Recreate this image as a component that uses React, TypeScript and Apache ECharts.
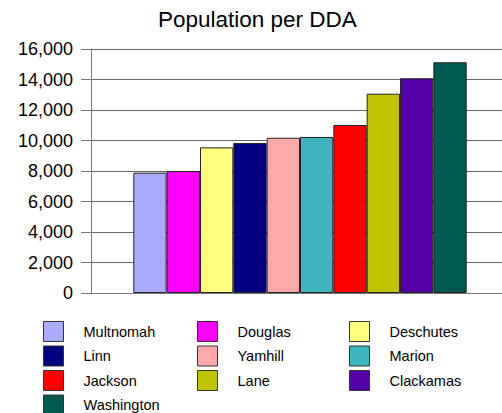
import React, { useEffect, useRef } from "react";
import * as echarts from "echarts";

// Population per DDA, one bar per county
const counties = [
  "Multnomah", "Douglas", "Deschutes", "Linn", "Yamhill",
  "Marion", "Jackson", "Lane", "Clackamas", "Washington",
];
const population = [7890, 8000, 9550, 9840, 10180, 10230, 11020, 13070, 14080, 15130];
const colors = [
  "#AAAAFF", "#FF00FF", "#FFFF80", "#000080", "#FFA8A8",
  "#3FB5C1", "#FF0000", "#C2C300", "#5500A8", "#005A50",
];
const yTicks = { min: 0, max: 16000, interval: 2000 };

// Legend columns, read top to bottom
const legendColumns = [
  ["Multnomah", "Linn", "Jackson", "Washington"],
  ["Douglas", "Yamhill", "Lane"],
  ["Deschutes", "Marion", "Clackamas"],
];
const legendLeft = [43, 197, 349];

const FONT = "Liberation Sans, Arial, sans-serif";

export default function App() {
  const ref = useRef<HTMLDivElement>(null);

  useEffect(() => {
    if (!ref.current) return;
    const chart = echarts.init(ref.current, null, { renderer: "svg" });

    const series = counties.map((name, i) => ({
      name,
      type: "bar",
      xAxisIndex: 1,
      yAxisIndex: 1,
      data: [population[i]],
      barGap: "0%",
      barCategoryGap: "0%",
      itemStyle: { color: colors[i], borderColor: "#222", borderWidth: 1 },
    }));

    chart.setOption({
      animation: false,
      backgroundColor: "#fff",
      title: {
        text: "Population per DDA",
        left: 158,
        top: 8,
        padding: 0,
        textStyle: { fontFamily: FONT, fontSize: 22.5, fontWeight: "normal", color: "#000" },
      },
      grid: [
        { left: 91, right: 0, top: 49, bottom: 120 },
        { left: 133.3, right: 35.3, top: 49, bottom: 120 },
      ],
      xAxis: [
        {
          type: "category",
          gridIndex: 0,
          data: [""],
          axisLine: { show: true, lineStyle: { color: "#777", width: 1 } },
          axisTick: { show: false },
          axisLabel: { show: false },
        },
        { type: "category", gridIndex: 1, data: [""], show: false },
      ],
      yAxis: [
        {
          type: "value",
          gridIndex: 0,
          ...yTicks,
          axisLine: { show: true, lineStyle: { color: "#777", width: 1 } },
          axisTick: { show: true, length: 10, lineStyle: { color: "#777" } },
          axisLabel: {
            margin: 18,
            fontFamily: FONT,
            fontSize: 18,
            color: "#000",
            formatter: (v: number) => v.toLocaleString("en-US"),
          },
          splitLine: { show: true, lineStyle: { color: "#666", width: 1 } },
        },
        { type: "value", gridIndex: 1, ...yTicks, show: false },
      ],
      legend: legendColumns.map((col, c) => ({
        data: col,
        orient: "vertical",
        left: legendLeft[c],
        top: 321,
        height: 120,
        padding: 0,
        itemWidth: 20,
        itemHeight: 20,
        itemGap: 3.5,
        icon: "rect",
        selectedMode: false,
        itemStyle: { borderColor: "#333", borderWidth: 1 },
        textStyle: {
          fontFamily: FONT,
          fontSize: 14.5,
          lineHeight: 14,
          color: "#000",
          padding: [0, 0, 0, 15],
        },
      })),
      series,
    });

    return () => chart.dispose();
  }, []);

  return (
    <div
      ref={ref}
      style={{ position: "fixed", left: 0, top: 0, width: 502, height: 413, background: "#fff" }}
    />
  );
}
